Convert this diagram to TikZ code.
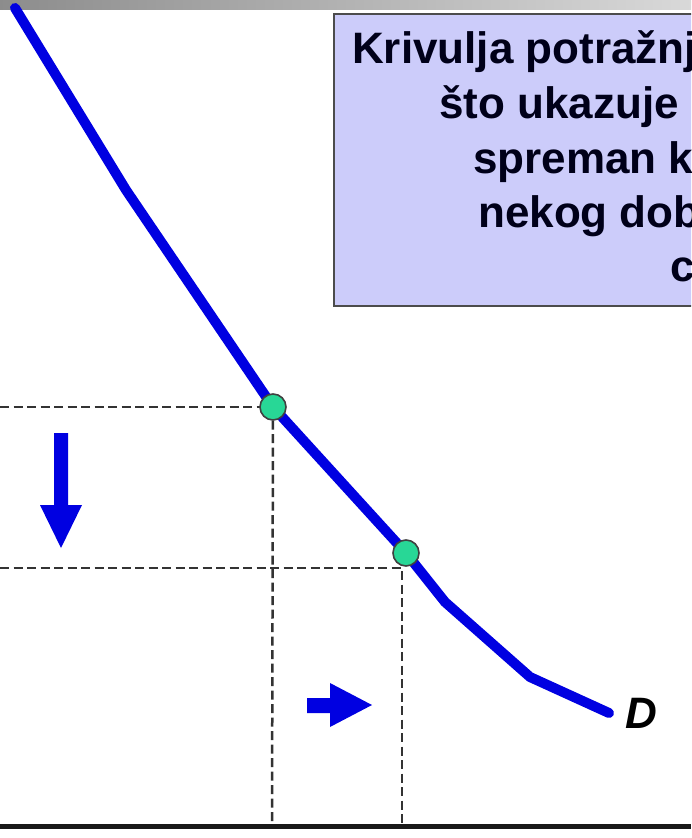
\documentclass[tikz,border=0pt]{standalone}
\usepackage{fontspec}
\setmainfont{Liberation Sans}
\definecolor{curveblue}{RGB}{0,0,225}
\definecolor{boxfill}{RGB}{204,204,250}
\definecolor{dotgreen}{RGB}{40,215,150}
\tikzset{
  curve/.style={curveblue,line width=10pt,line join=round,line cap=round},
  guide/.style={draw=black!80,line width=2.5pt,dash pattern=on 9pt off 4.5pt},
  pointdot/.style={circle,fill=dotgreen,draw=black!75,line width=1.6pt,minimum size=26pt,inner sep=0pt},
  boxtext/.style={font=\bfseries\fontsize{44}{50}\selectfont,text=black!90!blue,inner sep=0pt,anchor=base west},
  fatarrow/.style={fill=curveblue}
}
\begin{document}
\begin{tikzpicture}[x=1pt,y=-1pt]
\useasboundingbox (0,0) rectangle (691,838);
\fill[white] (0,0) rectangle (691,838);
\begin{scope}
\clip (0,0) rectangle (691,838);
% top bar
\shade[left color=black!45,right color=black!15] (0,0) rectangle (691,9);
% text box
\node[draw=black!70,line width=2pt,fill=boxfill,minimum width=400pt,minimum height=292pt,anchor=north west,inner sep=0pt] (box) at (333,13) {};
\node[boxtext] (t1) at (352,63) {Krivulja potražnje};
\node[boxtext] (t2) at (439,118) {što ukazuje};
\node[boxtext] (t3) at (473,173) {spreman kupiti};
\node[boxtext] (t4) at (478,227) {nekog dobra};
\node[boxtext] (t5) at (670,281) {cijeni};
% axis
\coordinate (axL) at (0,826);
\coordinate (axR) at (691,826);
% dots positions
\coordinate (p1) at (273,407);
\coordinate (p2) at (406,553);
% guides
\coordinate (h1L) at (0,407);
\coordinate (h2L) at (0,568);
\coordinate (h2R) at (402,568);
\coordinate (v1B) at (272,826);
\coordinate (v2B) at (402,826);
\draw[guide] (h1L) -- (p1);
\draw[guide] (p1) -- (v1B);
\draw[guide] (h2L) -- (h2R) -- (v2B);
% demand curve
\coordinate (c0) at (15,8);
\coordinate (c1) at (126,190);
\coordinate (c3) at (445,602);
\coordinate (c4) at (530,677);
\coordinate (c5) at (609,713);
\draw[curve] (c0) -- (c1) -- (p1) -- (p2) -- (c3) -- (c4) -- (c5);
\node[pointdot] (d1) at (p1) {};
\node[pointdot] (d2) at (p2) {};
\node[font=\bfseries\itshape\fontsize{44}{44}\selectfont,inner sep=0pt,anchor=base west] (D) at (625,728) {D};
% axis line
\draw[black!90,line width=5pt] (axL) -- (axR);
% blue arrows
\fill[fatarrow] (54,433) -- (68,433) -- (68,505) -- (82,505) -- (61,548) -- (40,505) -- (54,505) -- cycle;
\fill[fatarrow] (307,698) -- (330,698) -- (330,683) -- (372,705) -- (330,727) -- (330,713) -- (307,713) -- cycle;
\end{scope}
\end{tikzpicture}
\end{document}
